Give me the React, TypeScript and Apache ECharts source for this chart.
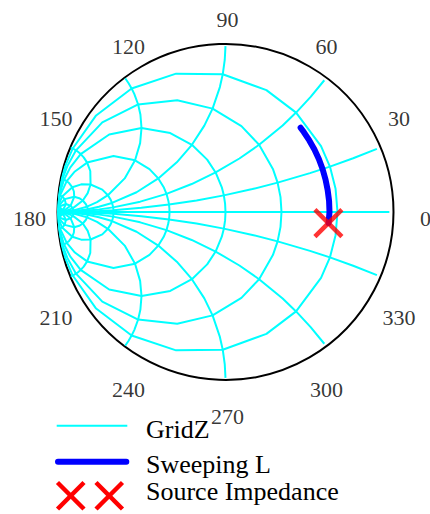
import React, { useEffect, useRef } from "react";
import * as echarts from "echarts";

// Admittance-form Smith grid: constant-conductance circles and constant-susceptance arcs
const conductanceValues = [0.2, 0.5, 1, 2, 5, 10, 20, 50];
const susceptanceValues = [0, 0.2, 0.5, 1, 2, 5, 10, 20, 50];
// parameter stations each grid curve is traced through (polyline vertices)
const curveStations = [0, 0.1, 0.2, 0.3, 0.5, 0.7, 1, 1.4, 2, 3, 5, 7, 10, 20, 50, 200, 1000];
// susceptance arcs start just inside the rim
const minConductance = 0.0125;

// polar angle tick labels (degrees)
const angleTicks = [0, 30, 60, 90, 120, 150, 180, 210, 240, 270, 300, 330];

// Shunt-L sweep, reflection coefficient |Γ| and angle (deg)
const sweepMagnitude = [0.617, 0.619, 0.62, 0.622, 0.626, 0.632, 0.639, 0.647, 0.656, 0.666, 0.672];
const sweepAngle = [-6.1, 0, 6.1, 12.1, 18.0, 23.9, 29.6, 35.1, 40.5, 45.6, 48.3];

// Source impedance, reflection coefficient |Γ| and angle (deg)
const sourceMagnitude = [0.616];
const sourceAngle = [-6.2];

const FONT = '"Liberation Serif", "Times New Roman", Times, "DejaVu Serif", serif';
const CYAN = "#00ffff";
const BLUE = "#0000ff";
const RED = "#ff0000";

// Γ = (1 - y) / (1 + y), returned as [|Γ|, angle in degrees 0..360)
function admittanceToPolar(g: number, b: number): [number, number] {
  const den = (1 + g) * (1 + g) + b * b;
  const re = (1 - g * g - b * b) / den;
  const im = (-2 * b) / den;
  const r = Math.hypot(re, im);
  let a = (Math.atan2(im, re) * 180) / Math.PI;
  if (a < 0) a += 360;
  return [r, a];
}

function norm(a: number) {
  return a < 0 ? a + 360 : a;
}

function buildGridCurves(): [number, number][][] {
  const curves: [number, number][][] = [];
  const neg = curveStations.filter((s) => s > 0).map((s) => -s).reverse();
  const bTrace = [...neg, ...curveStations];
  conductanceValues.forEach((g) => {
    curves.push(bTrace.map((b) => admittanceToPolar(g, b)));
  });
  const gTrace = [minConductance, ...curveStations.filter((s) => s > minConductance)];
  susceptanceValues.forEach((b) => {
    const signs = b === 0 ? [1] : [1, -1];
    signs.forEach((s) => {
      curves.push(gTrace.map((g) => admittanceToPolar(g, s * b)));
    });
  });
  return curves;
}

function legendText(text: string, y: number) {
  return {
    type: "text",
    x: 146,
    y,
    style: {
      text,
      font: `26px ${FONT}`,
      fill: "#000000",
      verticalAlign: "middle",
    },
  };
}

export default function App() {
  const ref = useRef<HTMLDivElement>(null);

  useEffect(() => {
    if (!ref.current) return;
    const chart = echarts.init(ref.current, undefined, { renderer: "svg" });

    const gridSeries = buildGridCurves().map((pts) => ({
      type: "line",
      name: "GridZ",
      coordinateSystem: "polar",
      data: pts,
      showSymbol: false,
      symbol: "none",
      silent: true,
      lineStyle: { color: CYAN, width: 2 },
      z: 2,
    }));

    const option: any = {
      animation: false,
      backgroundColor: "#ffffff",
      textStyle: { fontFamily: FONT },
      polar: { center: [225.5, 212], radius: 168 },
      angleAxis: {
        type: "value",
        min: 0,
        max: 360,
        interval: 30,
        startAngle: 0,
        clockwise: false,
        axisLine: { show: true, lineStyle: { color: "#000000", width: 2 } },
        axisTick: { show: false },
        axisLabel: { show: false },
        splitLine: { show: false },
      },
      radiusAxis: {
        type: "value",
        min: 0,
        max: 1,
        axisLine: { show: false },
        axisTick: { show: false },
        axisLabel: { show: false },
        splitLine: { show: false },
      },
      series: [
        ...gridSeries,
        {
          type: "line",
          name: "Sweeping L",
          coordinateSystem: "polar",
          data: sweepMagnitude.map((r, i) => [r, norm(sweepAngle[i])]),
          showSymbol: false,
          symbol: "none",
          lineStyle: { color: BLUE, width: 6, cap: "round", join: "round" },
          z: 3,
        },
        {
          type: "scatter",
          name: "Source Impedance",
          coordinateSystem: "polar",
          data: sourceMagnitude.map((r, i) => [r, norm(sourceAngle[i])]),
          symbol: "path://M0 0L10 10M10 0L0 10",
          symbolSize: 27,
          itemStyle: { color: "rgba(0,0,0,0)", borderColor: RED, borderWidth: 4.5 },
          z: 4,
        },
        {
          type: "scatter",
          name: "angle labels",
          coordinateSystem: "polar",
          clip: false,
          silent: true,
          data: angleTicks.map((a) => [1.1786, a]),
          symbol: "circle",
          symbolSize: 1,
          itemStyle: { color: "rgba(0,0,0,0)" },
          label: {
            show: true,
            position: "inside",
            offset: [2, 6],
            formatter: (p: any) => String(p.value[1]),
            color: "#000000",
            fontFamily: FONT,
            fontSize: 22,
          },
          z: 5,
        },
      ],
      graphic: [
        {
          type: "line",
          shape: { x1: 56.7, y1: 425.7, x2: 127.3, y2: 425.7 },
          style: { stroke: CYAN, lineWidth: 2 },
        },
        legendText("GridZ", 429.8),
        {
          type: "line",
          shape: { x1: 58, y1: 461.7, x2: 126.3, y2: 461.7 },
          style: { stroke: BLUE, lineWidth: 6, lineCap: "round" },
        },
        legendText("Sweeping L", 464.5),
        { type: "line", shape: { x1: 57.5, y1: 482.5, x2: 84, y2: 509 }, style: { stroke: RED, lineWidth: 4.5 } },
        { type: "line", shape: { x1: 84, y1: 482.5, x2: 57.5, y2: 509 }, style: { stroke: RED, lineWidth: 4.5 } },
        { type: "line", shape: { x1: 96, y1: 482.5, x2: 122.5, y2: 509 }, style: { stroke: RED, lineWidth: 4.5 } },
        { type: "line", shape: { x1: 122.5, y1: 482.5, x2: 96, y2: 509 }, style: { stroke: RED, lineWidth: 4.5 } },
        legendText("Source Impedance", 491.2),
      ],
    };

    chart.setOption(option);
    return () => chart.dispose();
  }, []);

  return (
    <div
      ref={ref}
      style={{ position: "fixed", left: 0, top: 0, width: 430, height: 514 }}
    />
  );
}
